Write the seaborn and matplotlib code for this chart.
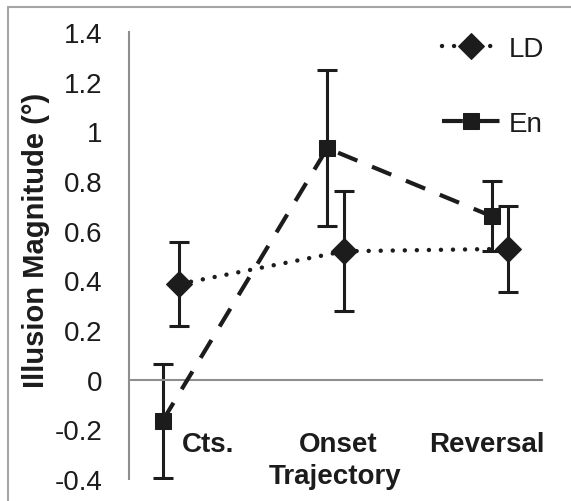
import pandas as pd
import seaborn as sns
import matplotlib.pyplot as plt
from matplotlib.lines import Line2D

# === Data ===
conditions = ["Cts.", "Onset", "Reversal"]
cond_pos = [0, 1, 2]

ld_mean = [0.385, 0.517, 0.527]
ld_err = [0.17, 0.242, 0.172]

en_mean = [-0.165, 0.932, 0.658]
en_err = [0.23, 0.315, 0.14]

yticks = [-0.4, -0.2, 0, 0.2, 0.4, 0.6, 0.8, 1, 1.2, 1.4]
ytick_labels = ["-0.4", "-0.2", "0", "0.2", "0.4", "0.6", "0.8", "1", "1.2", "1.4"]

offset = 0.05  # small horizontal dodge between the two series

ld_df = pd.DataFrame({"x": [p + offset for p in cond_pos], "y": ld_mean, "err": ld_err})
en_df = pd.DataFrame({"x": [p - offset for p in cond_pos], "y": en_mean, "err": en_err})

# === Style ===
sns.set_style("white")
plt.rcParams["font.family"] = ["Liberation Sans", "DejaVu Sans"]
ink = "#1c1c1c"
axis_gray = "#8e8e8e"

fig = plt.figure(figsize=(5.71, 5.02), dpi=100)
ax = fig.add_axes([129 / 571, 1 - 480 / 502, (542 - 129) / 571, (480 - 33) / 502])

# === Lines + markers ===
sns.lineplot(data=ld_df, x="x", y="y", ax=ax, color=ink, label="LD",
             marker="D", markersize=13.5, markeredgecolor=ink, markerfacecolor=ink,
             linewidth=3.2, linestyle=(0, (0.01, 2.7)), dash_capstyle="round", zorder=3)
sns.lineplot(data=en_df, x="x", y="y", ax=ax, color=ink, label="En",
             marker="s", markersize=12, markeredgecolor=ink, markerfacecolor=ink,
             linewidth=3.0, linestyle=(0, (5.0, 3.8)), zorder=3)

# error bars
ax.errorbar(en_df["x"], en_df["y"], yerr=en_df["err"], fmt="none", ecolor=ink,
            elinewidth=2.2, capsize=7, capthick=2.2, zorder=2)
ax.errorbar(ld_df["x"], ld_df["y"], yerr=ld_df["err"], fmt="none", ecolor=ink,
            elinewidth=2.2, capsize=7, capthick=2.2, zorder=2)

# === Axes ===
ax.set_xlim(-0.255, 2.255)
ax.set_ylim(-0.4, 1.4)
ax.set_yticks(yticks)
ax.set_yticklabels(ytick_labels)
ax.set_xticks([0.75, 1.75])
ax.set_xticklabels([])
ax.set_xlabel("")
ax.set_ylabel("")

for s in ["top", "right"]:
    ax.spines[s].set_visible(False)
ax.spines["bottom"].set_position(("data", 0))
for s in ["left", "bottom"]:
    ax.spines[s].set_color(axis_gray)
    ax.spines[s].set_linewidth(1.5)

ax.tick_params(axis="y", direction="out", length=6, width=1.3, color=axis_gray,
               labelsize=20, labelcolor=ink, pad=13)
ax.tick_params(axis="x", direction="out", length=6, width=1.3, color=axis_gray)

# category labels sit below the zero line
lab_kw = dict(ha="center", va="baseline", fontsize=20, fontweight="bold", color=ink)
ax.text(0.225, -0.287, "Cts.", **lab_kw)
ax.text(1.015, -0.287, "Onset", **lab_kw)
ax.text(1.0, -0.416, "Trajectory", **lab_kw)
ax.text(1.92, -0.287, "Reversal", **lab_kw)

fig.text(36 / 571, 1 - 240 / 502, "Illusion Magnitude (°)", rotation=90,
         ha="center", va="center", fontsize=21, fontweight="bold", color=ink)

# === Legend ===
leg = ax.legend(loc="upper left", bbox_to_anchor=(428 / 571, 1 - 23 / 502),
                bbox_transform=fig.transFigure, frameon=False, fontsize=20,
                handlelength=2.1, handletextpad=0.3, labelspacing=1.75,
                borderpad=0, labelcolor=ink)

# thin frame around the figure (top and left edges visible)
fig.add_artist(Line2D([8 / 571, 8 / 571], [0, 1 - 8 / 502], transform=fig.transFigure,
                      color="#a5a5a5", linewidth=1.5))
fig.add_artist(Line2D([8 / 571, 1], [1 - 8 / 502, 1 - 8 / 502], transform=fig.transFigure,
                      color="#a5a5a5", linewidth=1.5))

plt.savefig("out.png", dpi=100)
